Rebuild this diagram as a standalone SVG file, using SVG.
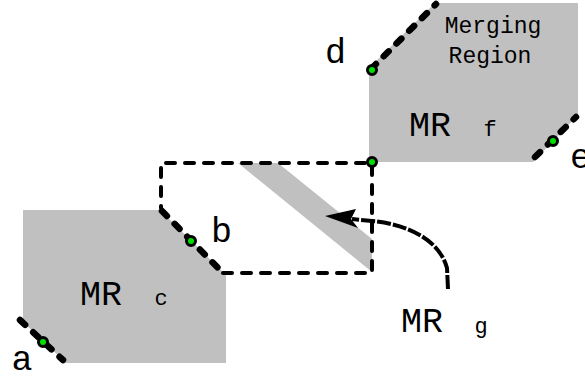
<svg xmlns="http://www.w3.org/2000/svg" width="585" height="379" viewBox="0 0 585 379">
  <style>
    .region { fill: #c0c0c0; stroke: none; }
    .lbl { font-family: "Courier New", "Liberation Mono", monospace; fill: #000; }
    .big { font-size: 35px; }
    .sub { font-size: 22px; }
    .note { font-size: 23px; text-anchor: middle; }
    .edge { fill: none; stroke: #000; stroke-width: 6.5; stroke-linecap: round; stroke-dasharray: 7 11; }
    .box { fill: none; stroke: #000; stroke-width: 4; stroke-linecap: round; stroke-dasharray: 9 10; }
    .pt { fill: #00e000; stroke: #000; stroke-width: 3; }
  </style>

  <!-- merging region c -->
  <g id="mr-c">
    <polygon class="region" points="23,210 160,210 224,273 226,273 226,363 66,363 23,322"/>
    <text class="lbl big" x="80" y="305">MR</text>
    <text class="lbl sub" x="161" y="305" text-anchor="middle">c</text>
  </g>

  <!-- merging region f -->
  <g id="mr-f">
    <polygon class="region" points="435,3 578,3 578,115 533,162 369,162 369,68"/>
    <text class="lbl note" x="493" y="33">Merging</text>
    <text class="lbl note" x="490" y="63">Region</text>
    <text class="lbl big" x="409" y="136">MR</text>
    <text class="lbl sub" x="490" y="136" text-anchor="middle">f</text>
  </g>

  <!-- merging region g: the strip inside the dashed box -->
  <g id="mr-g">
    <polygon class="region" points="238,163 278,163 372,239 372,272"/>
    <text class="lbl big" x="401" y="332">MR</text>
    <text class="lbl sub" x="481" y="333" text-anchor="middle">g</text>
  </g>

  <!-- boundary edges, box and pointer -->
  <g id="connectors">
    <path class="box" d="M223,273 H372 V163 H161 V208"/>
    <path class="edge" d="M20,320 L63,360"/>
    <path class="edge" d="M162,211 L222,272"/>
    <path class="edge" d="M371,69 L436,4"/>
    <path class="edge" d="M535,157 L576,117"/>
    <path d="M448,289 L447,268 C440,242 412,225 372,221 L352,219" fill="none" stroke="#000" stroke-width="4" stroke-dasharray="14 2"/>
    <polygon points="325,216 356,209 351,219 358,228" fill="#000"/>
  </g>

  <!-- corner points -->
  <g id="pt-a">
    <circle class="pt" cx="43" cy="342" r="4.5"/>
    <text class="lbl big" x="22" y="370" text-anchor="middle">a</text>
  </g>
  <g id="pt-b">
    <circle class="pt" cx="191" cy="241" r="4.5"/>
    <text class="lbl big" x="211" y="242">b</text>
  </g>
  <g id="pt-d">
    <circle class="pt" cx="372" cy="70" r="4.5"/>
    <text class="lbl big" x="325" y="63">d</text>
  </g>
  <g id="pt-e">
    <circle class="pt" cx="553" cy="141" r="4.5"/>
    <text class="lbl big" x="570" y="168">e</text>
  </g>
  <g id="pt-corner">
    <circle class="pt" cx="372" cy="162" r="4.5"/>
  </g>
</svg>
